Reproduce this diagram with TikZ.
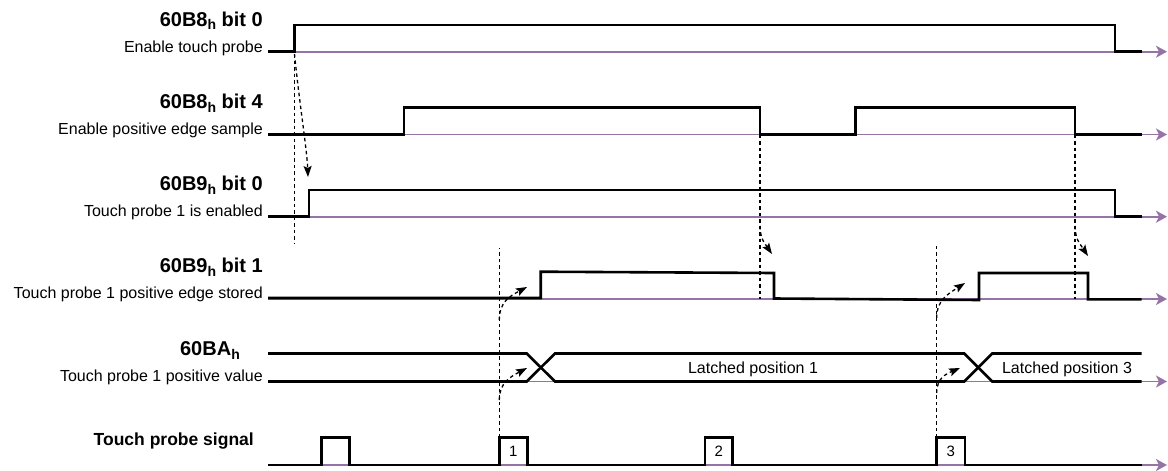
\documentclass[tikz,border=0pt]{standalone}
\usepackage{fontspec}
\setmainfont{Liberation Sans}
\usetikzlibrary{arrows.meta}
\definecolor{axispurple}{RGB}{150,115,166}
\newcommand\hsub{\raisebox{-4pt}{\fontsize{14}{14}\selectfont h}}
\tikzset{
  sig/.style={line width=2.6pt, line join=miter},
  axisline/.style={draw=axispurple, line width=1.6pt, -{Stealth[length=11pt,width=12pt,inset=3pt]}},
  guide/.style={line width=1.3pt, dash pattern=on 3.5pt off 3pt},
  guidearrow/.style={guide, -{Stealth[length=11pt,width=8pt,inset=2pt]}},
  ttl/.style={anchor=base east, inner sep=0pt, font=\fontsize{20}{22}\selectfont\bfseries},
  subttl/.style={anchor=base east, inner sep=0pt, font=\fontsize{16}{18}\selectfont},
  val/.style={anchor=base, inner sep=0pt, font=\fontsize{16}{18}\selectfont},
  num/.style={inner sep=0pt, font=\fontsize{15}{16}\selectfont}
}
\begin{document}
\begin{tikzpicture}[x=1pt,y=-1pt]
\useasboundingbox (0,0) rectangle (1168,471);

% labels
\node[ttl] (t1) at (263,26) {60B8\hsub{} bit 0};
\node[subttl] (s1) at (263,52) {Enable touch probe};
\node[ttl] (t2) at (263,108) {60B8\hsub{} bit 4};
\node[subttl] (s2) at (263,134.5) {Enable positive edge sample};
\node[ttl] (t3) at (263,190) {60B9\hsub{} bit 0};
\node[subttl] (s3) at (263,216.5) {Touch probe 1 is enabled};
\node[ttl] (t4) at (263,272) {60B9\hsub{} bit 1};
\node[subttl] (s4) at (263,298) {Touch probe 1 positive edge stored};
\node[ttl] (t5) at (240,355) {60BA\hsub};
\node[subttl] (s5) at (263,381) {Touch probe 1 positive value};
\node[anchor=base east, inner sep=0pt, font=\fontsize{17.5}{20}\selectfont\bfseries] (t6) at (254,445) {Touch probe signal};

% purple time axes
\coordinate (a1s) at (268,51.7);  \coordinate (a1e) at (1167,51.7);
\coordinate (a2s) at (268,134.5); \coordinate (a2e) at (1167,134.5);
\coordinate (a3s) at (268,216.7); \coordinate (a3e) at (1167,216.7);
\coordinate (a4s) at (268,299);   \coordinate (a4e) at (1167,299);
\coordinate (a5s) at (268,381.5); \coordinate (a5e) at (1167,381.5);
\coordinate (a6s) at (268,465);   \coordinate (a6e) at (1167,465);
\foreach \i in {1,...,6} {\draw[axisline] (a\i s) -- (a\i e);}

% signals
\draw[sig] (268,51.7) -- (294.5,51.7) -- (294.5,25) -- (1115,25) -- (1115,51.7) -- (1141.7,51.7);
\draw[sig] (268,134.5) -- (404,134.5) -- (404,107.5) -- (760,107.5) -- (760,134.5) -- (855.7,134.5)
  -- (855.7,107.5) -- (1075,107.5) -- (1075,134.5) -- (1141.7,134.5);
\draw[sig] (268,216.7) -- (309,216.7) -- (309,190) -- (1115,190) -- (1115,216.7) -- (1141.7,216.7);
\draw[sig] (268,298) -- (540.7,298) -- (540.7,271.7) -- (774,273) -- (774,298.5) -- (979,300)
  -- (979,273) -- (1088,273) -- (1088,299.3) -- (1141.7,299.3);
\draw[sig] (268,353.5) -- (526.7,353.5) -- (555,381.5) -- (964.3,381.5) -- (992.3,353.5) -- (1141.7,353.5);
\draw[sig] (268,381.5) -- (526.7,381.5) -- (555,353.5) -- (964.3,353.5) -- (992.3,381.5) -- (1141.7,381.5);
\draw[sig] (268,465) -- (321.7,465) -- (321.7,437.7) -- (349.3,437.7) -- (349.3,465) -- (499.3,465)
  -- (499.3,437.7) -- (527.3,437.7) -- (527.3,465) -- (705,465) -- (705,437.7) -- (732.3,437.7)
  -- (732.3,465) -- (936.7,465) -- (936.7,437.7) -- (965,437.7) -- (965,465) -- (1141.7,465);

\node[val] (lp1) at (753,373) {Latched position 1};
\node[val] (lp3) at (1067,373) {Latched position 3};
\node[num] (p1) at (513.3,451.5) {1};
\node[num] (p2) at (718.7,451.5) {2};
\node[num] (p3) at (950.8,451.5) {3};

% event coordinates
\coordinate (e1) at (294.5,54);   \coordinate (e1v) at (294.5,243);
\coordinate (e1t) at (308,177);
\coordinate (e2) at (760,134.5);  \coordinate (e2v) at (760,299);
\coordinate (e2b) at (760,226);   \coordinate (e2t) at (772,254);
\coordinate (e3) at (1075,134.5); \coordinate (e3v) at (1075,299);
\coordinate (e3b) at (1075,226);  \coordinate (e3t) at (1088,256);
\coordinate (e4) at (499.3,437.7);\coordinate (e4v) at (499.3,248);
\coordinate (e4b) at (499.3,320); \coordinate (e4t) at (527,287);
\coordinate (e4c) at (499.3,400); \coordinate (e4u) at (527,368);
\coordinate (e5) at (936.7,437.7);\coordinate (e5v) at (936.7,243);
\coordinate (e5b) at (936.7,318); \coordinate (e5t) at (965,283);
\coordinate (e5c) at (936.7,393); \coordinate (e5u) at (960,368);

% dashed guides
\draw[guide] (e1) -- (e1v);
\draw[guidearrow] (e1) .. controls (299,100) and (307,150) .. (e1t);
\draw[guide] (e2) -- (e2v);
\draw[guidearrow] (e2b) .. controls (761,238) .. (e2t);
\draw[guide] (e3) -- (e3v);
\draw[guidearrow] (e3b) .. controls (1076,238) .. (e3t);
\draw[guide] (e4) -- (e4v);
\draw[guidearrow] (e4b) .. controls (499.3,302) and (510,296) .. (e4t);
\draw[guidearrow] (e4c) .. controls (499.3,383) and (510,377) .. (e4u);
\draw[guide] (e5) -- (e5v);
\draw[guidearrow] (e5b) .. controls (936.7,300) and (948,294) .. (e5t);
\draw[guidearrow] (e5c) .. controls (936.7,378) and (946,374) .. (e5u);
\end{tikzpicture}
\end{document}
